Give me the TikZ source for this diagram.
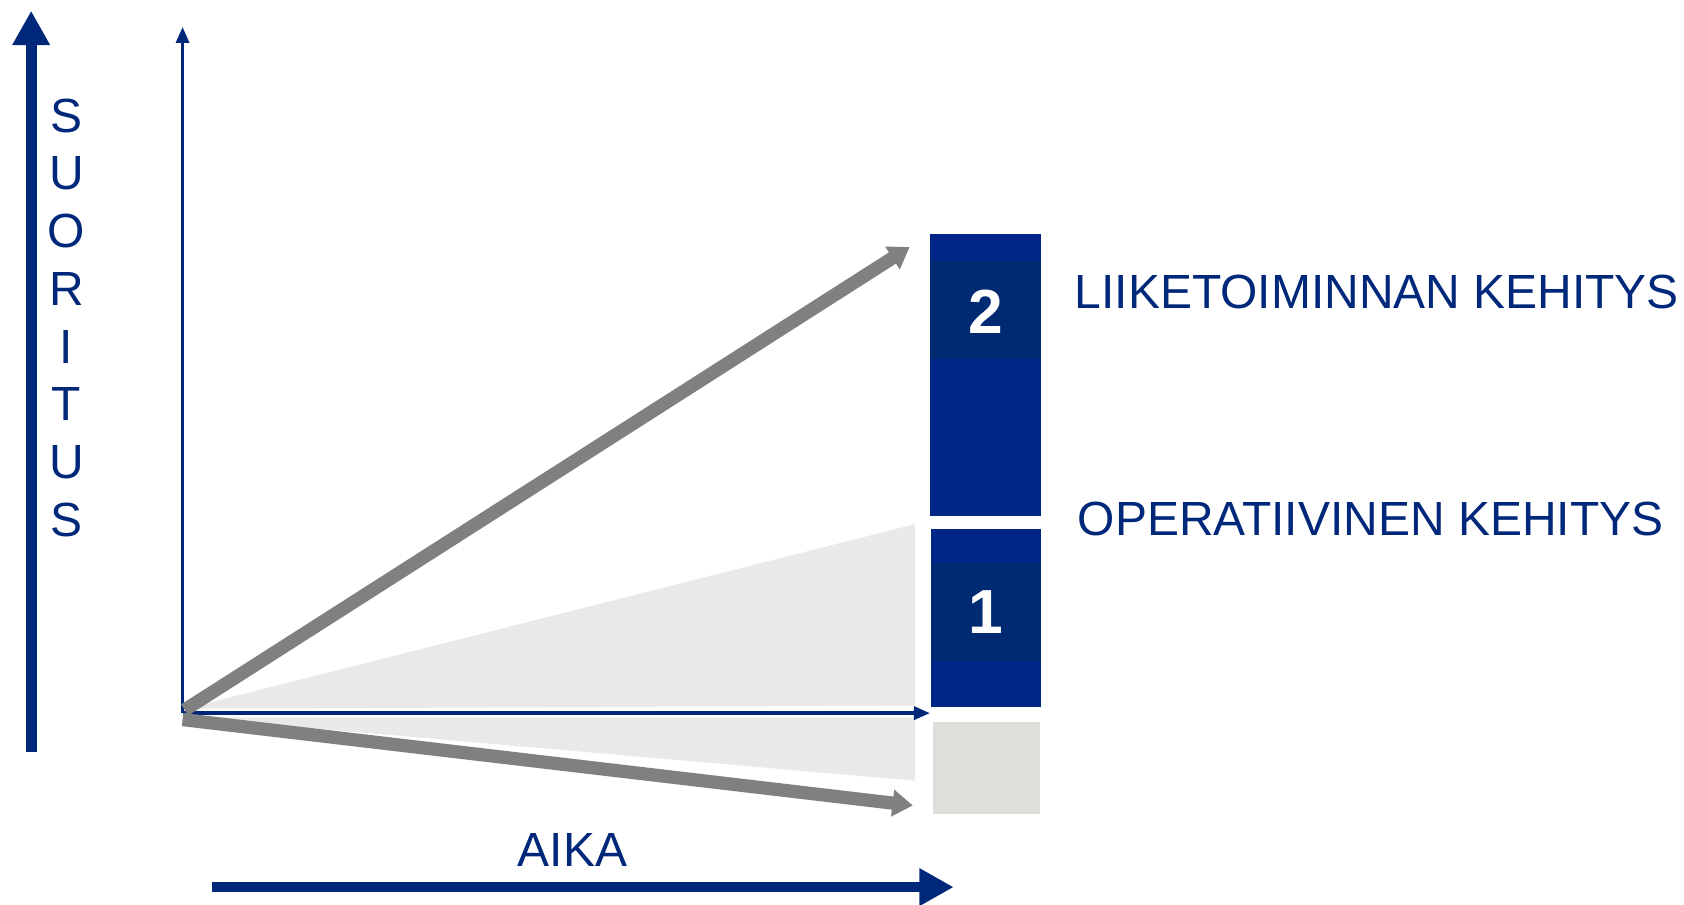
\documentclass[tikz,border=0pt]{standalone}
\usepackage{fontspec}
\setmainfont{Liberation Sans}
\usetikzlibrary{arrows.meta}

\definecolor{navy}{RGB}{0,40,122}
\definecolor{boxblue}{RGB}{0,38,136}
\definecolor{bandblue}{RGB}{0,42,114}
\definecolor{arrowgray}{RGB}{128,128,128}
\definecolor{wedgegray}{RGB}{233,233,231}
\definecolor{boxgray}{RGB}{222,222,218}

\tikzset{
  lbl/.style={text=navy, inner sep=0pt, font=\fontsize{12.7}{15}\selectfont},
  digit/.style={text=white, inner sep=0pt, font=\bfseries\fontsize{16.5}{18}\selectfont},
  bigarrow/.style={navy, line width=0.1cm, -{Triangle[length=3.2mm,width=3.3mm]}},
  axis/.style={navy, line width=0.95pt, -{Triangle[length=1.5mm,width=1.2mm]}},
  grayarrow/.style={arrowgray, line width=3.5pt, -{Triangle[length=1.9mm,width=2.4mm]}}
}

\begin{document}
\begin{tikzpicture}[x=0.01cm, y=-0.01cm]

\useasboundingbox (0,0) rectangle (1568,842);

\coordinate (O) at (170,664);

% wedges
\fill[wedgegray] (172,660) -- (852,488) -- (852,657) -- cycle;
\fill[wedgegray] (176,668) -- (852,668) -- (852,727) -- cycle;

% boxes
\fill[boxblue] (866,218) rectangle (969,480);
\fill[bandblue] (866,243) rectangle (969,334);
\fill[boxblue] (867,493) rectangle (969,658);
\fill[bandblue] (867,524) rectangle (969,615);
\fill[boxgray] (869,672) rectangle (968,758);

\node[digit] (two) at (917.5,290) {2};
\node[digit] (one) at (918,570) {1};

% axes
\coordinate (ytop) at (170,25);
\coordinate (xend) at (866,664);
\draw[axis] (O) -- (ytop);
\draw[axis] (O) -- (xend);

% gray arrows
\coordinate (up0) at (172,661);
\coordinate (up1) at (847,230);
\coordinate (dn0) at (170,670);
\coordinate (dn1) at (850,750);
\draw[grayarrow] (up0) -- (up1);
\draw[grayarrow] (dn0) -- (dn1);

% big arrows
\coordinate (s0) at (29,700);
\coordinate (s1) at (29,10);
\draw[bigarrow] (s0) -- (s1);
\coordinate (a0) at (197,826);
\coordinate (a1) at (888,826);
\draw[bigarrow] (a0) -- (a1);

% labels
\foreach \ch [count=\i] in {S,U,O,R,I,T,U,S}
  \node[lbl] (suo\i) at (62,{108+53.7*(\i-1)}) {\ch};
\node[lbl] (aika) at (533,791) {AIKA};
\node[lbl, anchor=west] (liike) at (1000,272) {LIIKETOIMINNAN KEHITYS};
\node[lbl, anchor=west] (oper) at (1003,483) {OPERATIIVINEN KEHITYS};

\end{tikzpicture}
\end{document}
